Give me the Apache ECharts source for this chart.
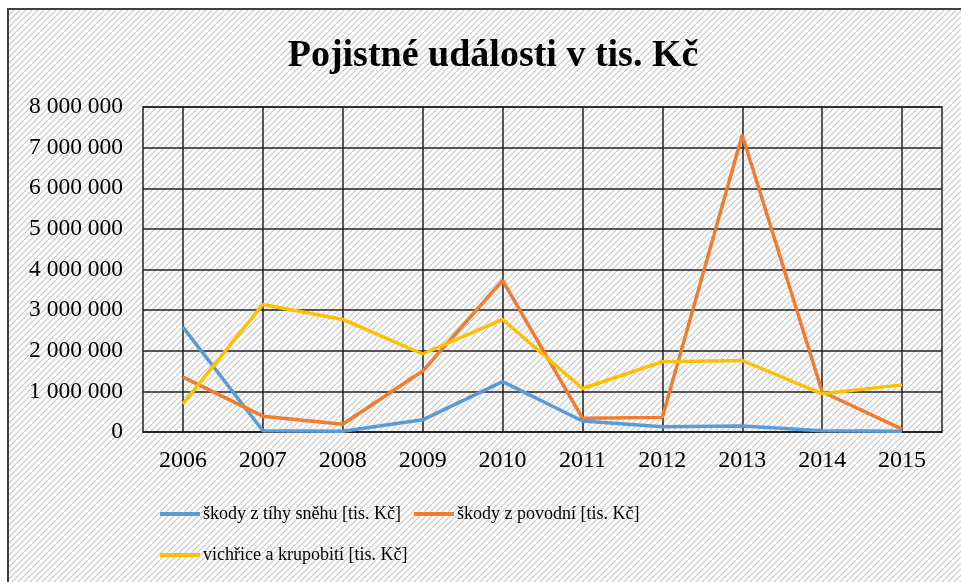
<!DOCTYPE html>
<html>
<head>
<meta charset="utf-8">
<script src="https://cdn.jsdelivr.net/npm/echarts@6/dist/echarts.min.js"></script>
<style>
  html, body { margin: 0; padding: 0; background: #fff; }
  #main { width: 961px; height: 582px; }
</style>
</head>
<body>
<div id="main"></div>
<script>
// data
var years = ['2006', '2007', '2008', '2009', '2010', '2011', '2012', '2013', '2014', '2015'];
var snih = [2580000, 30000, 20000, 300000, 1240000, 270000, 130000, 150000, 30000, 20000];
var povodne = [1350000, 390000, 190000, 1500000, 3730000, 340000, 360000, 7310000, 990000, 70000];
var vichrice = [690000, 3140000, 2770000, 1920000, 2770000, 1070000, 1730000, 1760000, 940000, 1160000];
var names = ['škody z tíhy sněhu [tis. Kč]', 'škody z povodní [tis. Kč]', 'vichřice a krupobití [tis. Kč]'];

// šrafované pozadí jako v Excelu
function makeHatch() {
    var c = document.createElement('canvas');
    c.width = 6;
    c.height = 6;
    var ctx = c.getContext('2d');
    ctx.fillStyle = '#ffffff';
    ctx.fillRect(0, 0, 6, 6);
    ctx.strokeStyle = '#c8c8c8';
    ctx.lineWidth = 1.2;
    ctx.beginPath();
    ctx.moveTo(-1, 7); ctx.lineTo(7, -1);
    ctx.moveTo(-4, 4); ctx.lineTo(4, -4);
    ctx.moveTo(2, 10); ctx.lineTo(10, 2);
    ctx.stroke();
    return c;
}

function fmt(v) {
    return String(v).replace(/\B(?=(\d{3})+(?!\d))/g, ' ');
}

var myChart = echarts.init(document.getElementById('main'));
var font = '"Liberation Serif", "Times New Roman", serif';

var option = {
    backgroundColor: '#ffffff',
    animation: false,
    graphic: [
        {
            type: 'rect',
            z: -10,
            silent: true,
            shape: { x: 8, y: 9, width: 1000, height: 700 },
            style: { fill: { image: makeHatch(), repeat: 'repeat' }, stroke: '#404040', lineWidth: 2 }
        }
    ],
    title: {
        text: 'Pojistné události v tis. Kč',
        left: 488,
        textAlign: 'center',
        top: 32,
        textStyle: { fontFamily: font, fontSize: 38, fontWeight: 'bold', color: '#000' }
    },
    legend: {
        left: 155,
        top: 495,
        width: 520,
        itemWidth: 40,
        itemHeight: 4,
        itemGap: 13,
        icon: 'rect',
        textStyle: { fontFamily: font, fontSize: 18, color: '#000', lineHeight: 28, padding: [0, 0, 0, -2] },
        data: names
    },
    grid: {
        left: 143,
        right: 19,
        top: 107,
        bottom: 150,
        show: true,
        borderColor: '#222',
        borderWidth: 1.5,
        containLabel: false
    },
    xAxis: {
        type: 'category',
        boundaryGap: true,
        data: years,
        axisLine: { lineStyle: { color: '#222', width: 1.5 } },
        axisTick: { show: false },
        axisLabel: { fontFamily: font, fontSize: 24, color: '#000', margin: 17 },
        splitLine: { show: true, alignWithLabel: true, lineStyle: { color: '#222', width: 1.5 } }
    },
    yAxis: {
        type: 'value',
        min: 0,
        max: 8000000,
        interval: 1000000,
        axisLine: { show: false },
        axisTick: { show: false },
        axisLabel: { fontFamily: font, fontSize: 23.5, color: '#000', margin: 20, formatter: fmt },
        splitLine: { lineStyle: { color: '#222', width: 1.5 } }
    },
    series: [
        {
            name: names[0],
            type: 'line',
            data: snih,
            symbol: 'none',
            color: '#5B9BD5',
            lineStyle: { width: 3.5 }
        },
        {
            name: names[1],
            type: 'line',
            data: povodne,
            symbol: 'none',
            color: '#ED7D31',
            lineStyle: { width: 3.5 }
        },
        {
            name: names[2],
            type: 'line',
            data: vichrice,
            symbol: 'none',
            color: '#FFC000',
            lineStyle: { width: 3.5 }
        }
    ]
};

myChart.setOption(option);
</script>
</body>
</html>
